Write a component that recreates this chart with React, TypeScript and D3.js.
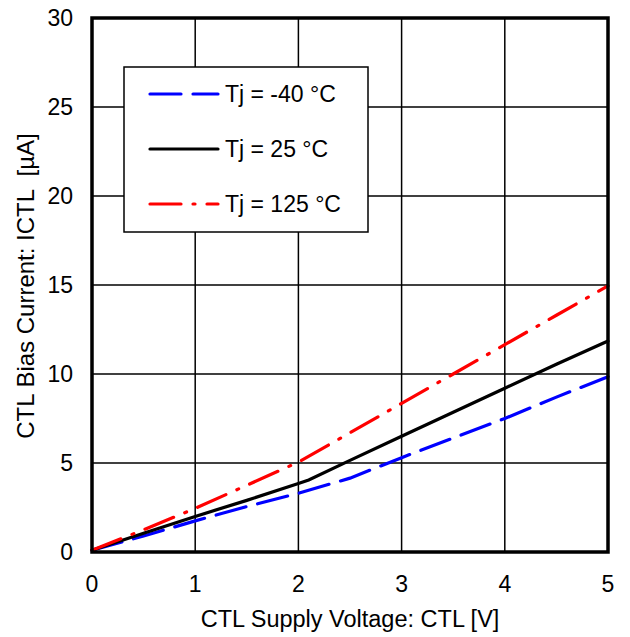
import React from "react";
import * as d3 from "d3";

const xTicks = [0, 1, 2, 3, 4, 5];
const yTicks = [0, 5, 10, 15, 20, 25, 30];

const vM40 = [0, 0.5, 1, 1.5, 2, 2.5, 3, 3.5, 4, 4.5, 5];
const iM40 = [0.1, 0.9, 1.75, 2.55, 3.3, 4.15, 5.3, 6.4, 7.5, 8.7, 9.85];

const v25 = [0, 0.5, 1, 1.5, 2, 2.1, 2.5, 3, 3.5, 4, 4.5, 5];
const i25 = [0.1, 1.05, 2.0, 2.9, 3.85, 4.05, 5.15, 6.5, 7.85, 9.2, 10.55, 11.85];

const v125 = [0, 0.5, 1, 1.5, 2, 2.5, 3, 3.5, 4, 4.5, 5];
const i125 = [0.1, 1.25, 2.45, 3.75, 5.05, 6.7, 8.35, 10.0, 11.65, 13.3, 14.95];

const seriesNames = ["Tj = -40 °C", "Tj = 25 °C", "Tj = 125 °C"];
const seriesColors = ["#0000ff", "#000000", "#ff0000"];
const seriesDash = ["31 12", "", "31 12 2 12"];

export default function App() {
  const left = 92, right = 608, top = 18, bottom = 552;
  const x = d3.scaleLinear().domain([0, 5]).range([left, right]);
  const y = d3.scaleLinear().domain([0, 30]).range([bottom, top]);
  const line = d3.line<[number, number]>().x((d) => x(d[0])).y((d) => y(d[1]));
  const series = [
    vM40.map((v, i) => [v, iM40[i]] as [number, number]),
    v25.map((v, i) => [v, i25[i]] as [number, number]),
    v125.map((v, i) => [v, i125[i]] as [number, number]),
  ];
  const font = "'Liberation Sans', Arial, sans-serif";
  const legX = 124, legY = 67, legW = 244, legH = 165;
  const rowY = [94, 149, 204];
  return (
    <svg width={630} height={637} style={{ position: "absolute", left: 0, top: 0 }} fontFamily={font}>
      <rect x={0} y={0} width={630} height={637} fill="#fff" />
      {xTicks.slice(1, -1).map((t) => (
        <line key={"gx" + t} x1={x(t)} x2={x(t)} y1={top} y2={bottom} stroke="#000" strokeWidth={1.5} />
      ))}
      {yTicks.slice(1, -1).map((t) => (
        <line key={"gy" + t} x1={left} x2={right} y1={y(t)} y2={y(t)} stroke="#000" strokeWidth={1.5} />
      ))}
      <rect x={legX} y={legY} width={legW} height={legH} fill="#fff" stroke="#000" strokeWidth={1.5} />
      {series.map((s, i) => (
        <path key={"s" + i} d={line(s) || ""} fill="none" stroke={seriesColors[i]} strokeWidth={3.2}
          strokeDasharray={seriesDash[i] || undefined} strokeLinecap="round" />
      ))}
      <rect x={left} y={top} width={right - left} height={bottom - top} fill="none" stroke="#000" strokeWidth={3.5} />
      {seriesNames.map((n, i) => (
        <g key={"l" + i}>
          <line x1={150} x2={218} y1={rowY[i]} y2={rowY[i]} stroke={seriesColors[i]} strokeWidth={3.2}
            strokeDasharray={seriesDash[i] || undefined} strokeLinecap="round" />
          <text x={225} y={rowY[i]} dy="0.35em" fontSize={23} fill="#000">{n}</text>
        </g>
      ))}
      {xTicks.map((t) => (
        <text key={"tx" + t} x={x(t)} y={592} textAnchor="middle" fontSize={23}>{t}</text>
      ))}
      {yTicks.map((t) => (
        <text key={"ty" + t} x={73} y={y(t)} dy="0.35em" textAnchor="end" fontSize={23}>{t}</text>
      ))}
      <text x={350} y={627} textAnchor="middle" fontSize={23.5}>CTL Supply Voltage: CTL [V]</text>
      <text transform={`translate(34,286) rotate(-90)`} textAnchor="middle" fontSize={24} style={{ whiteSpace: "pre" }}>
        {"CTL Bias Current: ICTL  [µA]"}
      </text>
    </svg>
  );
}
